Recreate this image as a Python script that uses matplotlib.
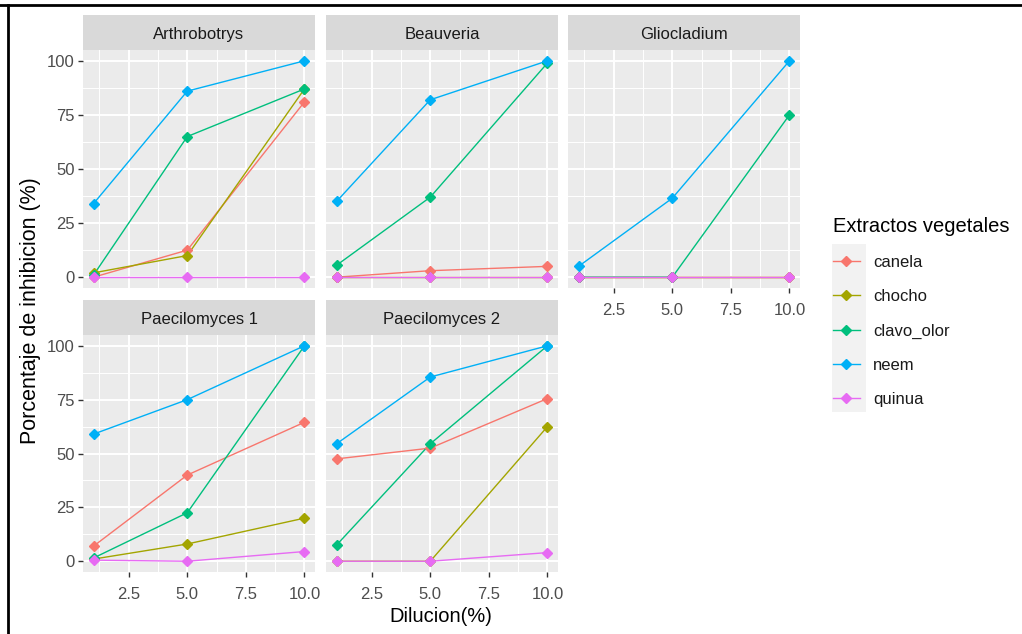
import matplotlib
matplotlib.use("Agg")
import matplotlib.pyplot as plt
from matplotlib.lines import Line2D
from matplotlib.patches import Rectangle

plt.rcParams['font.family'] = ['Liberation Sans', 'DejaVu Sans']

# Data
dilucion = [1, 5, 10]
extractos = ["canela", "chocho", "clavo_olor", "neem", "quinua"]
colores = ["#F8766D", "#A3A500", "#00BF7D", "#00B0F6", "#E76BF3"]
hongos = ["Arthrobotrys", "Beauveria", "Gliocladium",
          "Paecilomyces 1", "Paecilomyces 2"]

# rows follow the order of `extractos`
arthrobotrys = [[0, 12.5, 81], [2, 10, 87], [1, 65, 87], [34, 86, 100], [0, 0, 0]]
beauveria = [[0, 3, 5], [0, 0, 0], [5.5, 37, 99], [35, 82, 100], [0, 0, 0]]
gliocladium = [[0, 0, 0], [0, 0, 0], [0, 0, 75], [5, 36.5, 100], [0, 0, 0]]
paecilomyces1 = [[7, 40, 64.5], [1, 8, 20], [1.5, 22.5, 100], [59, 75, 100], [0.5, 0, 4.5]]
paecilomyces2 = [[47.5, 52.5, 75.5], [0, 0, 62.5], [7.5, 54.5, 100], [54.5, 85.5, 100], [0, 0, 4]]

xticks = [2.5, 5.0, 7.5, 10.0]
xticklabels = ["2.5", "5.0", "7.5", "10.0"]
yticks = [0, 25, 50, 75, 100]

W, H = 1022, 634


def rect(x0, y0, x1, y1):
    """Pixel box (top-left origin) -> figure fraction."""
    return [x0 / W, 1 - y1 / H, (x1 - x0) / W, (y1 - y0) / H]


fig = plt.figure(figsize=(W / 100, H / 100), dpi=100)
fig.patch.set_facecolor("white")

datos = dict(zip(hongos, [arthrobotrys, beauveria, gliocladium,
                          paecilomyces1, paecilomyces2]))

cols = [(83, 315), (326, 558), (568, 800)]
rows = [(15, 50, 288), (300, 335, 572)]

for i, hongo in enumerate(hongos):
    r, c = divmod(i, 3)
    x0, x1 = cols[c]
    s0, p0, p1 = rows[r]

    strip = fig.add_axes(rect(x0, s0, x1, p0))
    strip.set_facecolor("#D9D9D9")
    strip.set_xticks([])
    strip.set_yticks([])
    for sp in strip.spines.values():
        sp.set_visible(False)
    strip.text(0.5, 0.45, hongo, ha="center", va="center",
               fontsize=12, color="#1A1A1A", transform=strip.transAxes)

    ax = fig.add_axes(rect(x0, p0, x1, p1))
    ax.set_facecolor("#EBEBEB")
    for sp in ax.spines.values():
        sp.set_visible(False)
    ax.set_xlim(0.55, 10.45)
    ax.set_ylim(-5, 105)
    ax.set_xticks(xticks)
    ax.set_xticks([1.25, 3.75, 6.25, 8.75], minor=True)
    ax.set_yticks(yticks)
    ax.set_yticks([12.5, 37.5, 62.5, 87.5], minor=True)
    ax.grid(which="major", color="white", linewidth=1.4)
    ax.grid(which="minor", color="white", linewidth=0.7)
    ax.set_axisbelow(True)
    ax.tick_params(which="minor", length=0)
    ax.tick_params(which="major", length=3.6, width=1, color="#333333",
                   labelcolor="#4D4D4D", labelsize=12, pad=2.5)
    ax.tick_params(axis="x", which="major", pad=7)

    if c == 0:
        ax.set_yticklabels([str(v) for v in yticks])
    else:
        ax.tick_params(axis="y", length=0, labelleft=False)
    if r == 1 or i == 2:
        ax.set_xticklabels(xticklabels)
    else:
        ax.tick_params(axis="x", length=0, labelbottom=False)

    for k, (ext, col) in enumerate(zip(extractos, colores)):
        ax.plot(dilucion, datos[hongo][k], color=col, lw=1.0, zorder=2 + k * 0.01)
    for k, (ext, col) in enumerate(zip(extractos, colores)):
        ax.plot(dilucion, datos[hongo][k], color=col, lw=0, marker="D",
                ms=5.5, zorder=3 + k * 0.01)

# axis titles
fig.text(441 / W, 1 - 617 / H, "Dilucion(%)", ha="center", va="center",
         fontsize=14.5, color="black")
fig.text(31 / W, 1 - 311 / H, "Porcentaje de inhibicion (%)", ha="center",
         va="center", rotation=90, fontsize=15.5, color="black")

# legend
fig.add_artist(Rectangle((832 / W, 1 - 412 / H), 34 / W, 168 / H,
                         transform=fig.transFigure, facecolor="#F2F2F2",
                         edgecolor="none"))
handles = [Line2D([], [], color=col, lw=1.0, marker="D", ms=5.5)
           for col in colores]
leg = fig.legend(handles, extractos, loc="upper left",
                 bbox_to_anchor=(818 / W, 1 - 202 / H), frameon=False,
                 title="Extractos vegetales", title_fontsize=14.5,
                 fontsize=12, handlelength=1.6, labelspacing=1.15,
                 handletextpad=0.8, alignment="left")
for t in leg.get_texts():
    t.set_color("#1A1A1A")

# black frame of the original screenshot
fig.add_artist(Line2D([0, 1], [1 - 5 / H, 1 - 5 / H], color="black",
                      lw=2, transform=fig.transFigure))
fig.add_artist(Line2D([8 / W, 8 / W], [0, 1 - 5 / H], color="black",
                      lw=2, transform=fig.transFigure))

fig.savefig("out.png", dpi=100)
